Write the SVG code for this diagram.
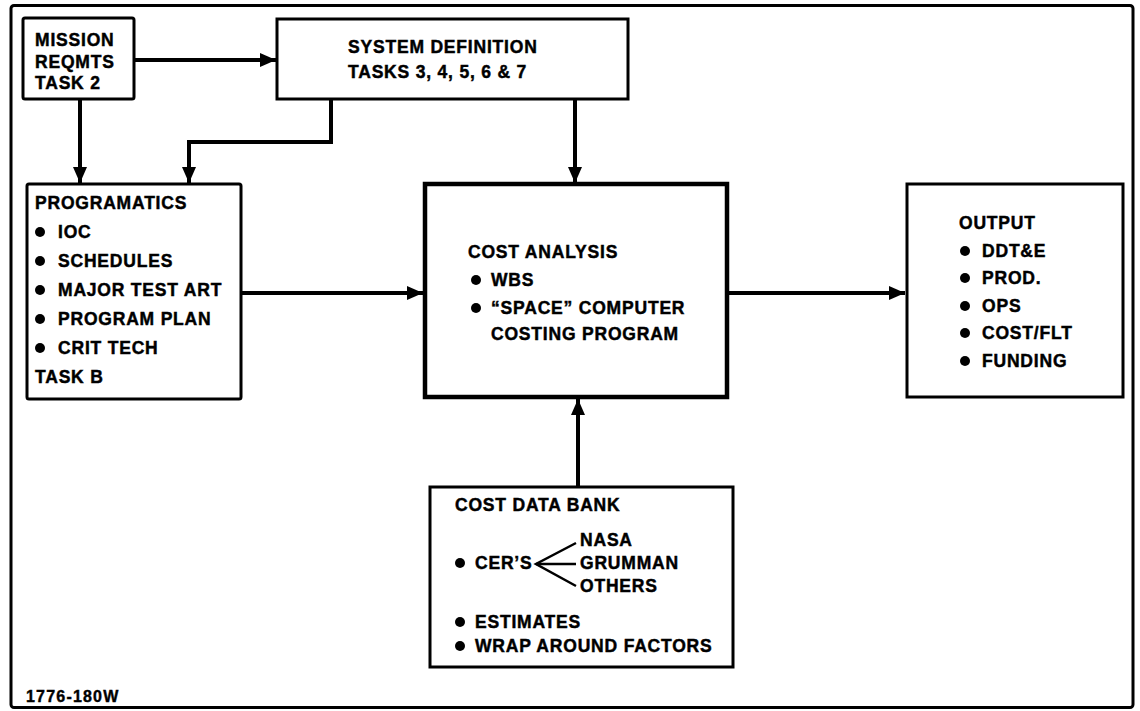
<svg xmlns="http://www.w3.org/2000/svg" width="1140" height="711" viewBox="0 0 1140 711">
<defs>
<style>
.box{fill:#fff;stroke:#000;stroke-width:3}
.thick{fill:#fff;stroke:#000;stroke-width:4.5}
.frame{fill:none;stroke:#000;stroke-width:3}
.t{font-family:"Liberation Sans",Arial,Helvetica,sans-serif;font-weight:bold;font-size:17.5px;letter-spacing:0.8px;fill:#000;stroke:#000;stroke-width:0.45px}
.id{font-family:"Liberation Sans",Arial,Helvetica,sans-serif;font-weight:bold;font-size:16px;letter-spacing:1.2px;fill:#000;stroke:#000;stroke-width:0.4px}
.c{fill:none;stroke:#000;stroke-width:4}
.fan{fill:none;stroke:#000;stroke-width:2.5}
.dot{fill:#000}
</style>
<marker id="ah" markerUnits="userSpaceOnUse" markerWidth="18" markerHeight="18" viewBox="0 0 18 18" refX="17" refY="9" orient="auto">
<path d="M1,2 L17,9 L1,16 Z" fill="#000"/>
</marker>
</defs>
<rect width="1140" height="711" fill="#fff"/>
<rect class="frame" x="11" y="5.5" width="1122" height="702" rx="3"/>

<g id="connectors">
<line class="c" x1="134" y1="60" x2="276" y2="60" marker-end="url(#ah)"/>
<line class="c" x1="80" y1="99" x2="80" y2="183" marker-end="url(#ah)"/>
<polyline class="c" points="331,99 331,142 189,142 189,183" marker-end="url(#ah)"/>
<line class="c" x1="575" y1="99" x2="575" y2="183" marker-end="url(#ah)"/>
<line class="c" x1="241" y1="293" x2="423" y2="293" marker-end="url(#ah)"/>
<line class="c" x1="727" y1="293" x2="905" y2="293" marker-end="url(#ah)"/>
<line class="c" x1="578" y1="487" x2="578" y2="399" marker-end="url(#ah)"/>
</g>

<g id="mission">
<rect class="box" x="23" y="18" width="111" height="81" rx="2"/>
<text class="t" x="35" y="46">MISSION</text>
<text class="t" x="35" y="68">REQMTS</text>
<text class="t" x="35" y="89">TASK 2</text>
</g>

<g id="system-definition">
<rect class="box" x="277" y="19" width="351" height="80"/>
<text class="t" x="348" y="53">SYSTEM DEFINITION</text>
<text class="t" x="348" y="78">TASKS 3, 4, 5, 6 &amp; 7</text>
</g>

<g id="programatics">
<rect class="box" x="27" y="184" width="214" height="215" rx="2"/>
<text class="t" x="35" y="209">PROGRAMATICS</text>
<circle class="dot" cx="40" cy="232" r="5"/><text class="t" x="58" y="238">IOC</text>
<circle class="dot" cx="40" cy="261" r="5"/><text class="t" x="58" y="267">SCHEDULES</text>
<circle class="dot" cx="40" cy="290" r="5"/><text class="t" x="58" y="296">MAJOR TEST ART</text>
<circle class="dot" cx="40" cy="319" r="5"/><text class="t" x="58" y="325">PROGRAM PLAN</text>
<circle class="dot" cx="40" cy="348" r="5"/><text class="t" x="58" y="354">CRIT TECH</text>
<text class="t" x="35" y="383">TASK B</text>
</g>

<g id="cost-analysis">
<rect class="thick" x="425" y="184" width="302" height="213"/>
<text class="t" x="468" y="258">COST ANALYSIS</text>
<circle class="dot" cx="476" cy="280" r="5"/><text class="t" x="491" y="286">WBS</text>
<circle class="dot" cx="476" cy="308" r="5"/><text class="t" x="491" y="314">“SPACE” COMPUTER</text>
<text class="t" x="491" y="340">COSTING PROGRAM</text>
</g>

<g id="output">
<rect class="box" x="907" y="184" width="216" height="213"/>
<text class="t" x="959" y="229">OUTPUT</text>
<circle class="dot" cx="965" cy="251" r="5"/><text class="t" x="982" y="257">DDT&amp;E</text>
<circle class="dot" cx="965" cy="278" r="5"/><text class="t" x="982" y="284">PROD.</text>
<circle class="dot" cx="965" cy="306" r="5"/><text class="t" x="982" y="312">OPS</text>
<circle class="dot" cx="965" cy="333" r="5"/><text class="t" x="982" y="339">COST/FLT</text>
<circle class="dot" cx="965" cy="361" r="5"/><text class="t" x="982" y="367">FUNDING</text>
</g>

<g id="cost-data-bank">
<rect class="box" x="430" y="487" width="303" height="180"/>
<text class="t" x="455" y="511">COST DATA BANK</text>
<circle class="dot" cx="460" cy="563" r="5"/><text class="t" x="475" y="569">CER’S</text>
<polyline class="fan" points="576,543 536,564 576,586"/>
<line class="fan" x1="536" y1="564" x2="576" y2="564"/>
<text class="t" x="580" y="546">NASA</text>
<text class="t" x="580" y="569">GRUMMAN</text>
<text class="t" x="580" y="592">OTHERS</text>
<circle class="dot" cx="460" cy="622" r="5"/><text class="t" x="475" y="628">ESTIMATES</text>
<circle class="dot" cx="460" cy="646" r="5"/><text class="t" x="475" y="652">WRAP AROUND FACTORS</text>
</g>

<text class="id" x="26" y="702">1776-180W</text>
</svg>
